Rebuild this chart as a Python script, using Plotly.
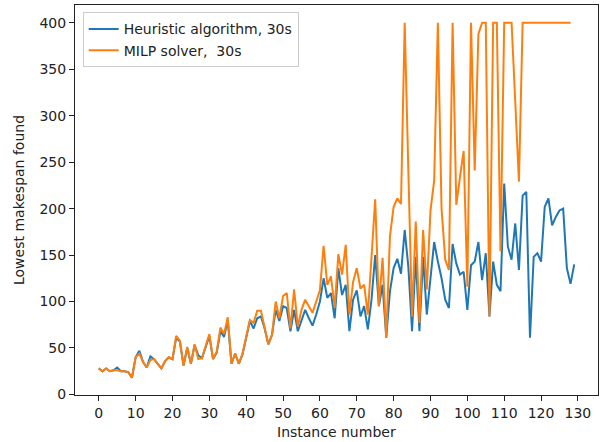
import plotly.graph_objects as go

heuristic = [28, 25, 28, 25, 26, 29, 25, 25, 24, 18,
             40, 47, 35, 29, 41, 38, 33, 28, 36, 40,
             38, 61, 57, 31, 50, 33, 53, 42, 39, 50,
             63, 38, 45, 68, 62, 80, 33, 44, 33, 43,
             61, 79, 71, 82, 84, 71, 54, 64, 91, 79,
             95, 93, 68, 91, 68, 80, 91, 82, 74, 86,
             100, 125, 104, 109, 82, 136, 107, 118, 68, 102,
             112, 84, 95, 70, 102, 150, 95, 118, 61, 111,
             136, 146, 130, 177, 137, 68, 148, 68, 148, 86,
             123, 164, 143, 125, 102, 93, 162, 141, 129, 132,
             91, 139, 143, 164, 123, 152, 84, 143, 118, 111,
             227, 159, 145, 184, 134, 214, 218, 61, 148, 152,
             143, 202, 211, 182, 191, 198, 200, 136, 119, 140]

milp = [28, 25, 28, 25, 26, 26, 25, 25, 24, 18,
        40, 44, 35, 29, 37, 38, 33, 28, 36, 40,
        38, 63, 58, 31, 51, 33, 54, 38, 39, 51,
        65, 38, 46, 72, 65, 83, 33, 44, 33, 44,
        64, 80, 77, 90, 90, 71, 54, 64, 100, 82,
        106, 109, 71, 113, 73, 91, 102, 95, 88, 100,
        112, 160, 118, 127, 93, 151, 129, 161, 86, 121,
        136, 114, 118, 86, 145, 210, 95, 147, 61, 170,
        202, 211, 205, 400, 240, 84, 186, 77, 177, 113,
        198, 230, 400, 200, 145, 134, 400, 204, 234, 262,
        116, 400, 241, 388, 400, 400, 84, 400, 400, 154,
        400, 400, 400, 315, 229, 400, 400, 400, 400, 400,
        400, 400, 400, 400, 400, 400, 400, 400, 400]

x_ticks = list(range(0, 131, 10))
y_ticks = list(range(0, 401, 50))

font = "DejaVu Sans"

fig = go.Figure()
fig.add_trace(go.Scatter(x=list(range(len(heuristic))), y=heuristic, mode="lines",
                         name="Heuristic algorithm, 30s",
                         line=dict(color="#1f77b4", width=2)))
fig.add_trace(go.Scatter(x=list(range(len(milp))), y=milp, mode="lines",
                         name="MILP solver,  30s",
                         line=dict(color="#ff7f0e", width=2)))

axis_common = dict(showgrid=False, zeroline=False, showline=True, mirror=True,
                   linecolor="#222222", linewidth=1, ticks="outside", ticklen=5,
                   tickwidth=1, tickcolor="#222222", automargin=False,
                   tickfont=dict(family=font, size=14, color="#222222"))

fig.update_layout(
    width=601, height=442,
    margin=dict(l=75, r=3, t=5, b=47),
    plot_bgcolor="white", paper_bgcolor="white",
    font=dict(family=font, size=14, color="#222222"),
    showlegend=True,
    legend=dict(x=0.0147, y=0.981, xanchor="left", yanchor="top",
                bgcolor="rgba(255,255,255,0.8)", bordercolor="#cccccc",
                borderwidth=1, font=dict(family=font, size=14, color="#222222")),
    xaxis=dict(range=[-6.45, 135.45], tickvals=x_ticks, **axis_common),
    yaxis=dict(range=[-0.6, 419.1], tickvals=y_ticks, **axis_common),
    annotations=[
        dict(text="Instance number", xref="paper", yref="paper", x=0.5, y=0,
             xanchor="center", yanchor="middle", yshift=-37, showarrow=False,
             font=dict(family=font, size=14, color="#222222")),
        dict(text="Lowest makespan found", xref="paper", yref="paper", x=0, y=0.5,
             xanchor="center", yanchor="middle", xshift=-56, textangle=-90,
             showarrow=False, font=dict(family=font, size=14, color="#222222")),
    ],
)

fig.write_html("out.html", config={"displayModeBar": False},
               post_script="document.body.style.margin='0';document.body.style.overflow='hidden';")
